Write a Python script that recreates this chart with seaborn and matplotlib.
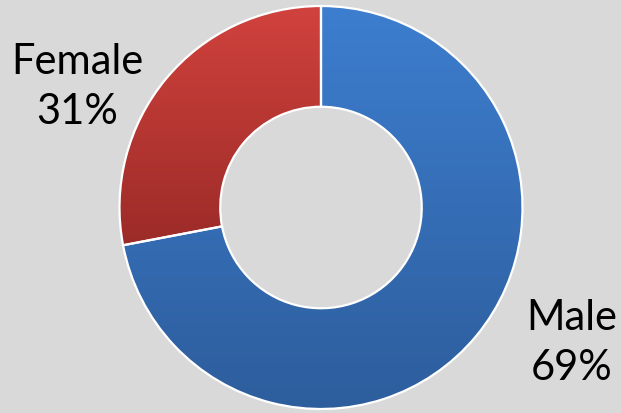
import numpy as np
import matplotlib
matplotlib.use("Agg")
import matplotlib.pyplot as plt
import seaborn as sns
from matplotlib.colors import LinearSegmentedColormap

# Data
categories = ["Male", "Female"]
shares = [72, 28]            # wedge sizes
pct_labels = ["69%", "31%"]  # percentages printed on the chart

grad_top = ["#3d7ecf", "#d1423d"]
grad_bottom = ["#2d5d9c", "#9c2b28"]

sns.set_theme(style="white")
plt.rcParams["font.family"] = ["Lato", "DejaVu Sans"]

W, H, DPI = 621, 414, 100
fig = plt.figure(figsize=(W / DPI, H / DPI), dpi=DPI, facecolor="#d9d9d9")
ax = fig.add_axes([0, 0, 1, 1])
ax.set_facecolor("#d9d9d9")

cx_px, cy_px, r_px = 321, 208.5, 201.5
xlim = (-cx_px / r_px, (W - cx_px) / r_px)
ylim = (-(H - cy_px) / r_px, cy_px / r_px)

wedges, _ = ax.pie(shares, radius=1, startangle=90, counterclock=False,
                   wedgeprops=dict(width=0.5, edgecolor="white", linewidth=1.6))

for w, c1, c2 in zip(wedges, grad_top, grad_bottom):
    w.set_facecolor("none")
    w.set_zorder(3)
    verts = w.get_path().vertices
    x0, x1 = verts[:, 0].min(), verts[:, 0].max()
    y0, y1 = verts[:, 1].min(), verts[:, 1].max()
    cmap = LinearSegmentedColormap.from_list("g", [c2, c1])
    grad = np.linspace(0, 1, 256).reshape(-1, 1)
    im = ax.imshow(grad, cmap=cmap, origin="lower", extent=[x0, x1, y0, y1],
                   aspect="auto", zorder=2, interpolation="bilinear")
    im.set_clip_path(w)

ax.set_xlim(*xlim)
ax.set_ylim(*ylim)
ax.set_aspect("auto")
ax.axis("off")

label_pos = [((572 - cx_px) / r_px, (cy_px - 343) / r_px),
             ((77 - cx_px) / r_px, (cy_px - 87) / r_px)]
for cat, pct, (lx, ly) in zip(categories, pct_labels, label_pos):
    ax.text(lx, ly, f"{cat}\n{pct}", ha="center", va="center", fontsize=30,
            color="black", linespacing=1.4, fontweight="normal")

fig.savefig("out.png", dpi=DPI, facecolor=fig.get_facecolor())
